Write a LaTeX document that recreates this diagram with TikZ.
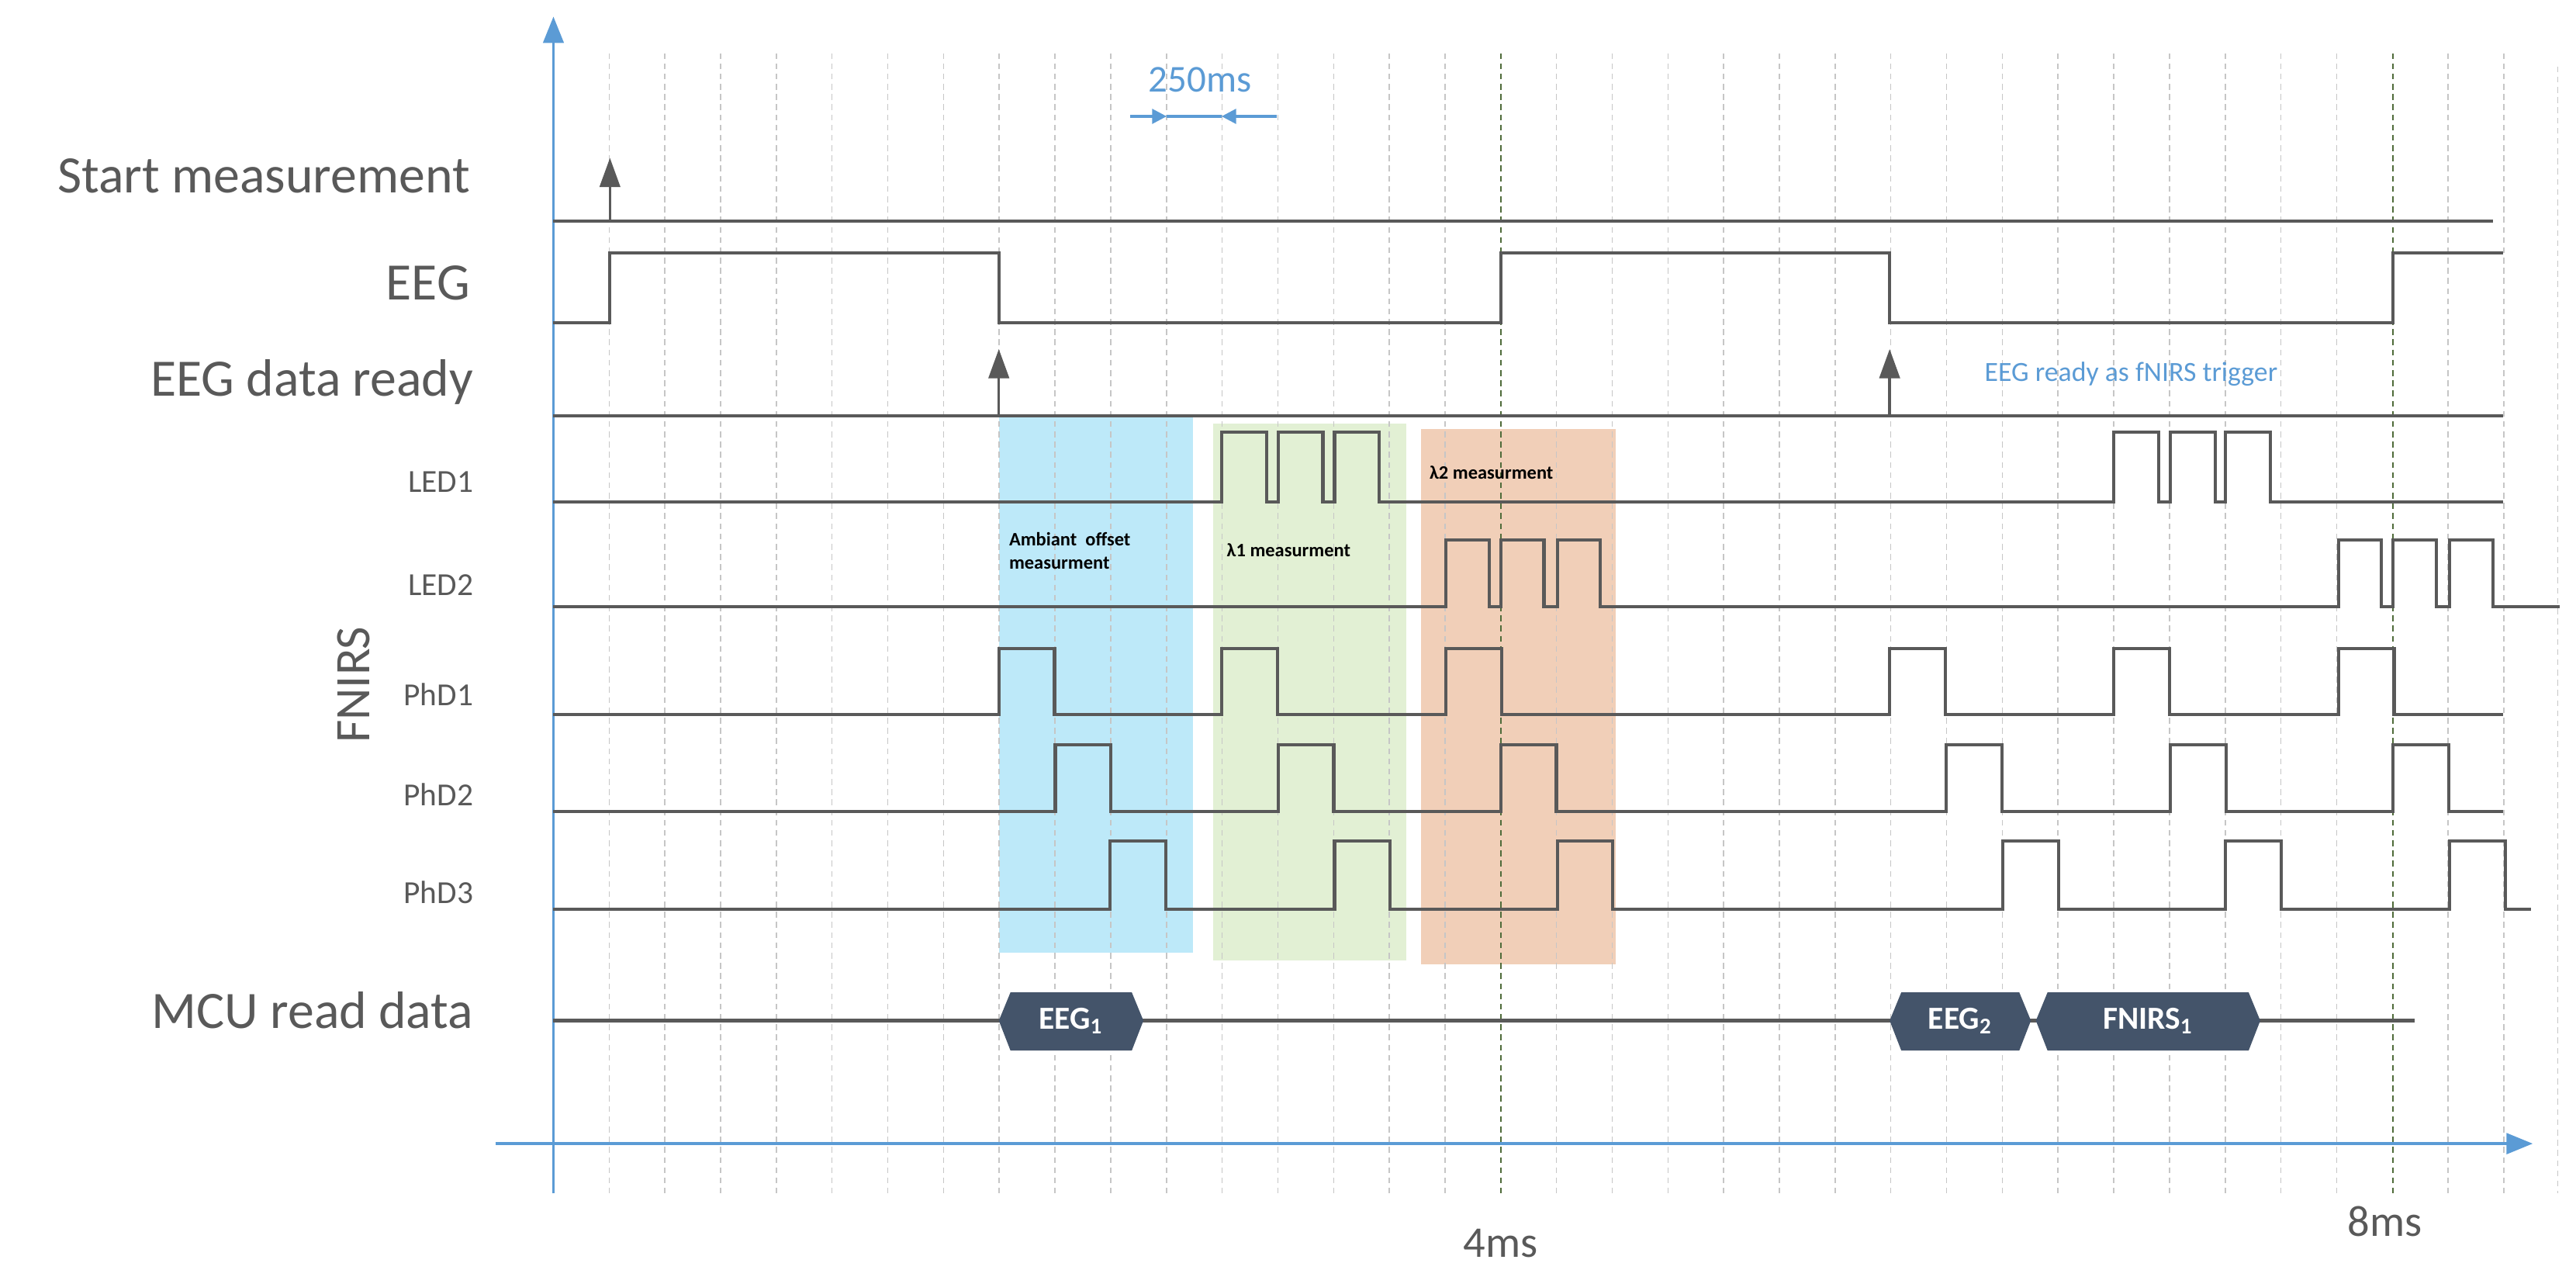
\documentclass[tikz,border=0pt]{standalone}
\usepackage{fontspec}
\setmainfont{Carlito}
\usetikzlibrary{arrows.meta}
\definecolor{sig}{HTML}{595959}
\definecolor{ax}{HTML}{5B9BD5}
\definecolor{hex}{HTML}{44546A}
\definecolor{bbox}{HTML}{BDE9F9}
\definecolor{gbox}{HTML}{E2F0D4}
\definecolor{obox}{HTML}{F1CFB8}
\definecolor{mark}{HTML}{4F6B3A}
\begin{document}
\begin{tikzpicture}[x=0.02cm,y=-0.02cm,
  sg/.style={draw=sig,line width=1.1pt},
  grid/.style={draw=gray!45,dash pattern=on 2pt off 1.5pt,line width=0.4pt},
  lab/.style={text=sig,font=\fontsize{18}{20}\selectfont,anchor=east},
  slab/.style={text=sig,font=\fontsize{11}{13}\selectfont,anchor=east},
  blab/.style={text=black,font=\fontsize{6.5}{8}\selectfont\bfseries,anchor=north west,align=left},
  trig/.style={draw=sig,line width=0.9pt,-{Triangle[length=10pt,width=7pt]}}]
\useasboundingbox (0,0) rectangle (1550,764);
% shaded boxes
\fill[bbox] (601,250) rectangle (718,573);
\fill[gbox] (730,255) rectangle (846,578);
\fill[obox] (855,258) rectangle (972,580);
% grid
\foreach \k in {1,...,35}{\draw[grid] ({333+33.53*\k},32) -- ({333+33.53*\k},718);}
\draw[grid] (1539,40) -- (1539,718);
\draw[draw=mark,dash pattern=on 2pt off 1.5pt,line width=0.5pt] (903,32) -- (903,718);
\draw[draw=mark,dash pattern=on 2pt off 1.5pt,line width=0.5pt] (1440,32) -- (1440,718);
% axes
\coordinate (o) at (333,718); \coordinate (yt) at (333,10);
\coordinate (xa) at (298,688); \coordinate (xb) at (1524,688);
\draw[ax,line width=0.9pt,-{Triangle[length=9pt,width=7pt]}] (o) -- (yt);
\draw[ax,line width=1.2pt,-{Triangle[length=9pt,width=7pt]}] (xa) -- (xb);
% 250ms
\node[text=ax,font=\fontsize{13}{15}\selectfont] (t250) at (722,48) {250ms};
\coordinate (d1) at (680,70); \coordinate (d2) at (702,70); \coordinate (d3) at (735,70); \coordinate (d4) at (768,70);
\draw[ax,line width=0.9pt,-{Triangle[length=5pt,width=5pt]}] (d1) -- (d2);
\draw[ax,line width=0.9pt,-{Triangle[length=5pt,width=5pt]}] (d4) -- (d3);
\draw[ax,line width=0.9pt] (d2) -- (d3);
% labels
\node[lab] (l0) at (289,106) {Start measurement};
\node[lab] (l1) at (289,170) {EEG};
\node[lab] (l2) at (291,230) {EEG data ready};
\node[slab] (l3) at (291,290) {LED1};
\node[slab] (l4) at (291,352) {LED2};
\node[slab] (l5) at (291,418) {PhD1};
\node[slab] (l6) at (291,478) {PhD2};
\node[slab] (l7) at (291,537) {PhD3};
\node[lab] (l8) at (291,608) {MCU read data};
\node[text=sig,font=\fontsize{17}{18}\selectfont,rotate=90] (fn) at (213,412) {FNIRS};
\node[text=sig,font=\fontsize{15}{18}\selectfont] (m4) at (903,748) {4ms};
\node[text=sig,font=\fontsize{15}{18}\selectfont] (m8) at (1435,735) {8ms};
\node[text=ax,font=\fontsize{9.5}{11}\selectfont,anchor=west] (trg) at (1188,225) {EEG ready as fNIRS trigger};
% box labels
\node[blab] (b1) at (601,314) {Ambiant~~offset\\measurment};
\node[blab] (b2) at (732,321) {λ1 measurment};
\node[blab] (b3) at (854,274) {λ2 measurment};
% start measurement
\draw[sg] (333,133) -- (1500,133);
\coordinate (s0) at (367,133); \coordinate (s1) at (367,95);
\draw[trig] (s0) -- (s1);
% EEG
\draw[sg] (333,194) -- (367,194) -- (367,152) -- (601,152) -- (601,194) -- (903,194) -- (903,152) -- (1137,152) -- (1137,194) -- (1440,194) -- (1440,152) -- (1506,152);
% EEG data ready
\draw[sg] (333,250) -- (1506,250);
\coordinate (r0) at (601,250); \coordinate (r1) at (601,210);
\coordinate (r2) at (1137,250); \coordinate (r3) at (1137,210);
\draw[trig] (r0) -- (r1); \draw[trig] (r2) -- (r3);
% LED1
\draw[sg] (333,302) -- (735,302)
 \foreach \a in {735,769,803}{ -- (\a,302) -- (\a,260) -- (\a+27,260) -- (\a+27,302)}
 -- (1272,302)
 \foreach \a in {1272,1306,1339}{ -- (\a,302) -- (\a,260) -- (\a+27,260) -- (\a+27,302)}
 -- (1506,302);
% LED2
\draw[sg] (333,365) -- (870,365)
 \foreach \a in {870,903,937}{ -- (\a,365) -- (\a,325) -- (\a+26,325) -- (\a+26,365)}
 -- (1407,365)
 \foreach \a in {1407,1440,1474}{ -- (\a,365) -- (\a,325) -- (\a+26,325) -- (\a+26,365)}
 -- (1540,365);
% PhD1
\draw[sg] (333,430) \foreach \a in {601,735,870,1137,1272,1407}{ -- (\a,430) -- (\a,390) -- (\a+33.5,390) -- (\a+33.5,430)} -- (1506,430);
% PhD2
\draw[sg] (333,488) \foreach \a in {635,769,903,1171,1306,1440}{ -- (\a,488) -- (\a,448) -- (\a+33.5,448) -- (\a+33.5,488)} -- (1506,488);
% PhD3
\draw[sg] (333,547) \foreach \a in {668,803,937,1205,1339,1474}{ -- (\a,547) -- (\a,506) -- (\a+33.5,506) -- (\a+33.5,547)} -- (1523,547);
% MCU
\draw[sg] (333,614) -- (1453,614);
\foreach \xa/\xb/\t/\n in {601/688/{EEG\textsubscript{1}}/h1,1137/1222/{EEG\textsubscript{2}}/h2,1225/1360/{FNIRS\textsubscript{1}}/h3}{
  \fill[hex] (\xa,614) -- (\xa+7,597) -- (\xb-7,597) -- (\xb,614) -- (\xb-7,632) -- (\xa+7,632) -- cycle;
  \node[text=white,font=\fontsize{11}{12}\selectfont\bfseries] (\n) at ({(\xa+\xb)/2},614) {\t};
}
\end{tikzpicture}
\end{document}
